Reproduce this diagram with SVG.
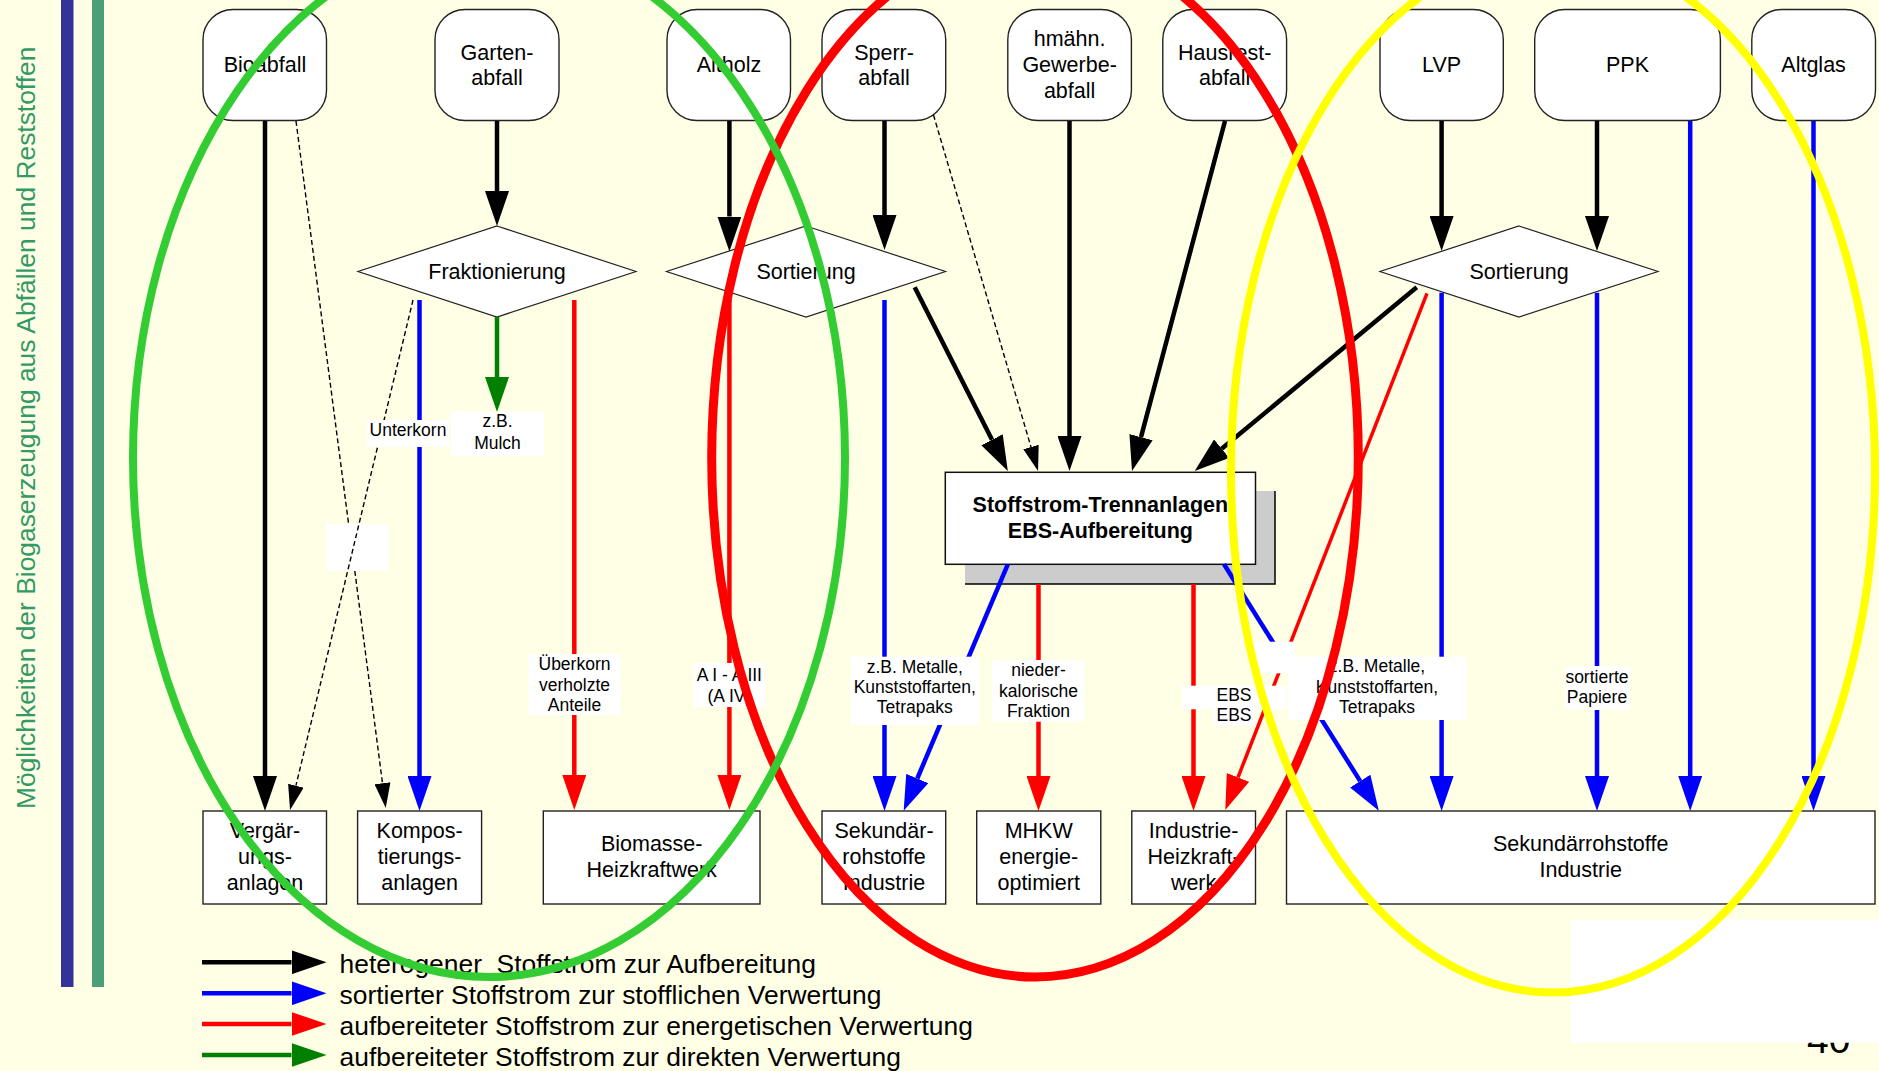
<svg xmlns="http://www.w3.org/2000/svg" width="1879" height="1071" viewBox="0 0 1879 1071">
<style>
.t{font-family:"Liberation Sans",Arial,Helvetica,sans-serif;font-size:21.5px;text-anchor:middle;fill:#000}
.tb{font-weight:bold}
.lb{font-size:17.5px}
.lg{font-size:26.4px;text-anchor:start;white-space:pre}
.box{fill:#fff;stroke:#222;stroke-width:1.4}
.dia{fill:#fff;stroke:#222;stroke-width:1.2}
.lbox{fill:#fff;stroke:none}
.c{fill:none;stroke-width:4.5}
.k{stroke:#000;marker-end:url(#mk)}
.b{stroke:#0000ff;marker-end:url(#mb)}
.r{stroke:#ff0000;marker-end:url(#mr)}
.g{stroke:#008000;marker-end:url(#mg)}
.d{fill:none;stroke:#000;stroke-width:1.4;stroke-dasharray:5 3;marker-end:url(#md)}
.ell{fill:none}
</style>
<defs>
<marker id="mk" markerUnits="userSpaceOnUse" markerWidth="36" markerHeight="24" viewBox="0 0 36 24" refX="0" refY="12" orient="auto"><path d="M0,0 L35,12 L0,24 z" fill="#000"/></marker>
<marker id="mb" markerUnits="userSpaceOnUse" markerWidth="36" markerHeight="24" viewBox="0 0 36 24" refX="0" refY="12" orient="auto"><path d="M0,0 L35,12 L0,24 z" fill="#0000ff"/></marker>
<marker id="mr" markerUnits="userSpaceOnUse" markerWidth="36" markerHeight="24" viewBox="0 0 36 24" refX="0" refY="12" orient="auto"><path d="M0,0 L35,12 L0,24 z" fill="#ff0000"/></marker>
<marker id="mg" markerUnits="userSpaceOnUse" markerWidth="36" markerHeight="24" viewBox="0 0 36 24" refX="0" refY="12" orient="auto"><path d="M0,0 L35,12 L0,24 z" fill="#008000"/></marker>
<marker id="md" markerUnits="userSpaceOnUse" markerWidth="26" markerHeight="16" viewBox="0 0 26 16" refX="0" refY="8" orient="auto"><path d="M0,0 L25,8 L0,16 z" fill="#000"/></marker>
</defs>
<rect x="0" y="0" width="1879" height="1071" fill="#ffffe6"/>
<g id="title">
<rect x="61" y="0" width="12.5" height="987" fill="#333399"/>
<rect x="92" y="0" width="12" height="987" fill="#4a9e78"/>
<text class="t" style="font-size:26.4px;text-anchor:start;fill:#339966" transform="translate(35,809) rotate(-90)">Möglichkeiten der Biogaserzeugung aus Abfällen und Reststoffen</text>
</g>
<g id="nodes">
<g id="n-bioabfall"><rect class="box" x="203" y="9.5" width="123.5" height="111" rx="30"/><text class="t" x="265" y="72">Bioabfall</text></g>
<g id="n-garten"><rect class="box" x="435" y="9.5" width="124" height="111" rx="30"/><text class="t" x="497" y="59.5">Garten-</text><text class="t" x="497" y="85">abfall</text></g>
<g id="n-altholz"><rect class="box" x="667" y="9.5" width="123.5" height="111" rx="30"/><text class="t" x="729" y="72">Altholz</text></g>
<g id="n-sperr"><rect class="box" x="822" y="9.5" width="123.7" height="111" rx="30"/><text class="t" x="884" y="59.5">Sperr-</text><text class="t" x="884" y="85">abfall</text></g>
<g id="n-gewerbe"><rect class="box" x="1007.8" y="9.5" width="123.6" height="111" rx="30"/><text class="t" x="1069.6" y="46">hmähn.</text><text class="t" x="1069.6" y="72">Gewerbe-</text><text class="t" x="1069.6" y="98">abfall</text></g>
<g id="n-hausrest"><rect class="box" x="1162.8" y="9.5" width="123.8" height="111" rx="30"/><text class="t" x="1224.7" y="59.5">Hausrest-</text><text class="t" x="1224.7" y="85">abfall</text></g>
<g id="n-lvp"><rect class="box" x="1380" y="9.5" width="123.3" height="111" rx="30"/><text class="t" x="1441.6" y="72">LVP</text></g>
<g id="n-ppk"><rect class="box" x="1534.7" y="9.5" width="185.7" height="111" rx="30"/><text class="t" x="1627.5" y="72">PPK</text></g>
<g id="n-altglas"><rect class="box" x="1751.8" y="9.5" width="123.7" height="111" rx="30"/><text class="t" x="1813.6" y="72">Altglas</text></g>
<g id="n-fraktionierung"><polygon class="dia" points="497,226 636,271.5 497,317 358,271.5"/><text class="t" x="497" y="278.5">Fraktionierung</text></g>
<g id="n-sortierung1"><polygon class="dia" points="806,226 945.5,271.5 806,317 666.5,271.5"/><text class="t" x="806" y="278.5">Sortierung</text></g>
<g id="n-sortierung2"><polygon class="dia" points="1519,226 1658,271.5 1519,317 1380,271.5"/><text class="t" x="1519" y="278.5">Sortierung</text></g>
<g id="n-trennanlagen"><rect x="965" y="491" width="310" height="93" fill="#cccccc"/><polyline points="965,584 1275,584 1275,491" fill="none" stroke="#000" stroke-width="1.5"/><rect x="945.3" y="472.3" width="310.2" height="92" fill="#fff" stroke="#111" stroke-width="1.5"/><text class="t tb" x="1100.4" y="511.7">Stoffstrom-Trennanlagen</text><text class="t tb" x="1100.4" y="537.7">EBS-Aufbereitung</text></g>
<g id="n-vergaerung"><rect class="box" x="203" y="811" width="123.5" height="93"/><text class="t" x="265" y="837.5">Vergär-</text><text class="t" x="265" y="863.5">ungs-</text><text class="t" x="265" y="889.5">anlagen</text></g>
<g id="n-kompost"><rect class="box" x="357.6" y="811" width="124" height="93"/><text class="t" x="419.6" y="837.5">Kompos-</text><text class="t" x="419.6" y="863.5">tierungs-</text><text class="t" x="419.6" y="889.5">anlagen</text></g>
<g id="n-biomasse"><rect class="box" x="543.3" y="811" width="216.7" height="93"/><text class="t" x="651.7" y="851">Biomasse-</text><text class="t" x="651.7" y="877">Heizkraftwerk</text></g>
<g id="n-sekundaer1"><rect class="box" x="822" y="811" width="123.7" height="93"/><text class="t" x="884" y="837.5">Sekundär-</text><text class="t" x="884" y="863.5">rohstoffe</text><text class="t" x="884" y="889.5">Industrie</text></g>
<g id="n-mhkw"><rect class="box" x="976.7" y="811" width="124.1" height="93"/><text class="t" x="1038.7" y="837.5">MHKW</text><text class="t" x="1038.7" y="863.5">energie-</text><text class="t" x="1038.7" y="889.5">optimiert</text></g>
<g id="n-industrie"><rect class="box" x="1131.8" y="811" width="123.7" height="93"/><text class="t" x="1193.6" y="837.5">Industrie-</text><text class="t" x="1193.6" y="863.5">Heizkraft-</text><text class="t" x="1193.6" y="889.5">werk</text></g>
<g id="n-sekundaer2"><rect class="box" x="1286.5" y="811" width="588.5" height="93"/><text class="t" x="1580.7" y="850.5">Sekundärrohstoffe</text><text class="t" x="1580.7" y="876.5">Industrie</text></g>
</g>
<rect id="blank-label" class="lbox" x="326.5" y="524" width="62.5" height="46.7"/>
<g id="connectors">
<path class="c k" d="M265,121 V776"/>
<path class="c k" d="M497,121 V191"/>
<path class="c k" d="M729.4,121 V216.5"/>
<path class="c k" d="M884.5,121 V215"/>
<path class="c k" d="M914.7,287.3 L992,439.8"/>
<path class="c k" d="M1069.5,121 V436"/>
<path class="c k" d="M1225,121 L1141,437.2"/>
<path class="c k" d="M1416.7,287.3 L1221.7,448.7"/>
<path class="c k" d="M1441.6,121 V216"/>
<path class="c k" d="M1597,121 V216"/>
<path class="d" d="M296,121 L348.6,524 M354.8,571 L382.5,783.2"/>
<path class="d" d="M413,300 L295.9,785.7"/>
<path class="d" d="M933.5,115 L1031,447"/>
<path class="c b" d="M419.5,300 V776"/>
<path class="c b" d="M884.5,300 V776"/>
<path class="c b" d="M1007.8,564.3 L917.3,778.5"/>
<path class="c b" d="M1224,564.3 L1360.2,781.1"/>
<path class="c b" d="M1441.6,292.7 V776"/>
<path class="c b" d="M1597,292.7 V776"/>
<path class="c b" d="M1690.2,121 V776"/>
<path class="c b" d="M1813.5,121 V776"/>
<path class="c g" d="M497,317 V377"/>
<path class="c r" d="M574.3,300 V775"/>
<path class="c r" d="M729.4,300 V775"/>
<path class="c r" d="M1038.5,584 V776"/>
<path class="c r" d="M1193.5,584 V776"/>
<path class="c r" style="stroke-width:3.5" d="M1427,293.3 L1238,777.4"/>
</g>
<g id="labels">
<g id="l-unterkorn"><rect class="lbox" x="367" y="420" width="82" height="27"/><text class="t lb" x="408" y="436">Unterkorn</text></g>
<g id="l-mulch"><rect class="lbox" x="451" y="411.7" width="93" height="45"/><text class="t lb" x="497.5" y="427">z.B.</text><text class="t lb" x="497.5" y="448.5">Mulch</text></g>
<g id="l-ueberkorn"><rect class="lbox" x="528.6" y="654" width="91.8" height="61"/><text class="t lb" x="574.5" y="669.5">Überkorn</text><text class="t lb" x="574.5" y="690.5">verholzte</text><text class="t lb" x="574.5" y="711">Anteile</text></g>
<g id="l-altholz"><rect class="lbox" x="693.5" y="663" width="71.5" height="44"/><text class="t lb" x="729.4" y="681">A I - A III</text><text class="t lb" x="729.4" y="702.3">(A IV)</text></g>
<g id="l-metalle1"><rect class="lbox" x="850.6" y="656.7" width="128.4" height="68.3"/><text class="t lb" x="914.8" y="673.3">z.B. Metalle,</text><text class="t lb" x="914.8" y="693.3">Kunststoffarten,</text><text class="t lb" x="914.8" y="713.3">Tetrapaks</text></g>
<g id="l-nieder"><rect class="lbox" x="992" y="660" width="92.5" height="61.7"/><text class="t lb" x="1038.5" y="676">nieder-</text><text class="t lb" x="1038.5" y="696.7">kalorische</text><text class="t lb" x="1038.5" y="716.7">Fraktion</text></g>
<g id="l-blank2"><rect class="lbox" x="1253" y="641.7" width="42" height="31.6"/></g>
<g id="l-ebs"><rect class="lbox" x="1181.7" y="685.7" width="104.3" height="23.6"/><rect class="lbox" x="1213" y="709" width="42" height="17"/><text class="t lb" x="1234" y="700.7">EBS</text><text class="t lb" x="1234" y="721">EBS</text></g>
<g id="l-metalle2"><rect class="lbox" x="1288" y="656.7" width="178.5" height="63.3"/><text class="t lb" x="1377" y="671.7">z.B. Metalle,</text><text class="t lb" x="1377" y="692.7">Kunststoffarten,</text><text class="t lb" x="1377" y="713.3">Tetrapaks</text></g>
<g id="l-papiere"><rect class="lbox" x="1564.5" y="666" width="65.3" height="44"/><text class="t lb" x="1597" y="682.7">sortierte</text><text class="t lb" x="1597" y="703.3">Papiere</text></g>
</g>
<g id="legend">
<path class="c k" d="M202,962.3 H291.5"/>
<path class="c b" d="M202,993.3 H291.5"/>
<path class="c r" d="M202,1024 H291.5"/>
<path class="c g" d="M202,1055 H291.5"/>
<text class="t lg" x="339.6" y="973.3">heterogener  Stoffstrom zur Aufbereitung</text>
<text class="t lg" x="339.6" y="1004.3">sortierter Stoffstrom zur stofflichen Verwertung</text>
<text class="t lg" x="339.6" y="1035">aufbereiteter Stoffstrom zur energetischen Verwertung</text>
<text class="t lg" x="339.6" y="1065.5">aufbereiteter Stoffstrom zur direkten Verwertung</text>
</g>
<g id="page">
<text class="t" style="font-size:39px;text-anchor:start" x="1807" y="1053">40</text>
<rect x="1571" y="919.3" width="308" height="123.4" fill="#fff"/>
</g>
<g id="highlights">
<ellipse class="ell" cx="1035" cy="458" rx="323.3" ry="519" stroke="#ff0000" stroke-width="9"/>
<ellipse class="ell" cx="489" cy="458" rx="356" ry="519" stroke="#33cc33" stroke-width="8"/>
<ellipse class="ell" cx="1553" cy="471.5" rx="322" ry="521" stroke="#ffff00" stroke-width="8"/>
</g>
</svg>
